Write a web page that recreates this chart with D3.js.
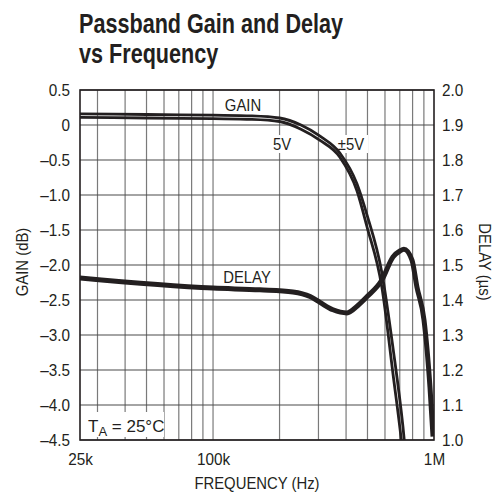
<!DOCTYPE html>
<html>
<head>
<meta charset="utf-8">
<script src="https://cdn.jsdelivr.net/npm/d3@7"></script>
<style>
  html, body { margin: 0; padding: 0; background: #fff; }
  svg { display: block; }
  text { font-family: "Liberation Sans", Arial, sans-serif; fill: #231f20; }
</style>
</head>
<body>
<svg id="chart" width="501" height="494"></svg>
<script>
// ---- data ----
const titleLines = ["Passband Gain and Delay", "vs Frequency"];
const gainTicks = [0.5, 0, -0.5, -1.0, -1.5, -2.0, -2.5, -3.0, -3.5, -4.0, -4.5];
const delayTicks = [2.0, 1.9, 1.8, 1.7, 1.6, 1.5, 1.4, 1.3, 1.2, 1.1, 1.0];
const freqTickValues = [25000, 100000, 1000000];
const freqTickLabels = ["25k", "100k", "1M"];
const freqGrid = [30000, 40000, 50000, 60000, 70000, 80000, 90000, 100000,
                  200000, 300000, 400000, 500000, 600000, 700000, 800000, 900000];

const gainFreq = [25000, 50000, 100000, 150000, 200000, 250000, 305000, 375000, 448000, 497000, 581000, 652000, 723000, 760000];
const gain5V   = [0.11, 0.10, 0.09, 0.08, 0.05, -0.06, -0.22, -0.46, -0.94, -1.45, -2.32, -3.55, -4.70, -5.40];
const gainPM5V = [0.16, 0.15, 0.14, 0.13, 0.10, 0.00, -0.16, -0.40, -0.84, -1.28, -2.11, -3.18, -4.30, -5.00];

const delayFreq = [25000, 100000, 163000, 230000, 275000, 305000, 349000, 404000, 450000, 497000, 581000, 652000, 701000, 731000, 795000, 837000, 901000, 959000, 990000];
const delayUs   = [1.463, 1.434, 1.429, 1.423, 1.410, 1.393, 1.372, 1.363, 1.383, 1.409, 1.457, 1.523, 1.540, 1.545, 1.514, 1.437, 1.343, 1.151, 1.010];

// ---- layout ----
const svg = d3.select("#chart");
const L = 80, R = 434, T = 90, B = 440;

const x = d3.scaleLog().domain([25000, 1000000]).range([L, R]);
const yG = d3.scaleLinear().domain([-4.5, 0.5]).range([B, T]);
const yD = d3.scaleLinear().domain([1.0, 2.0]).range([B, T]);

function condense(sel, f) {
  sel.each(function () {
    const w = this.getComputedTextLength();
    this.setAttribute("textLength", (w * f).toFixed(2));
    this.setAttribute("lengthAdjust", "spacingAndGlyphs");
  });
}

// title
svg.selectAll("text.title").data(titleLines).enter().append("text")
  .attr("class", "title")
  .attr("x", 79).attr("y", (d, i) => 33 + i * 30)
  .style("font-size", "27px").style("font-weight", "bold")
  .text(d => d)
  .call(condense, 0.8);

// grid
const grid = svg.append("g");
grid.selectAll("line.v").data(freqGrid).enter().append("line")
  .attr("x1", d => x(d)).attr("x2", d => x(d)).attr("y1", T).attr("y2", B)
  .attr("stroke", "#7a7a7a").attr("stroke-width", 1.2);
grid.selectAll("line.h").data(gainTicks).enter().append("line")
  .attr("x1", L).attr("x2", R).attr("y1", d => yG(d)).attr("y2", d => yG(d))
  .attr("stroke", "#4a4a4a").attr("stroke-width", 1.2);

// axes (labels only)
const fmtG = d => (d < 0 ? "\u2013" : "") + (d === 0 ? "0" : Math.abs(d).toFixed(1));
const axL = d3.axisLeft(yG).tickValues(gainTicks).tickFormat(fmtG).tickSize(0).tickPadding(10);
const gL = svg.append("g").attr("transform", `translate(${L},0)`).call(axL);
const axR = d3.axisRight(yD).tickValues(delayTicks).tickFormat(d => d.toFixed(1)).tickSize(0).tickPadding(8);
const gR = svg.append("g").attr("transform", `translate(${R},0)`).call(axR);
const axB = d3.axisBottom(x).tickValues(freqTickValues).tickFormat((d, i) => freqTickLabels[i]).tickSize(0).tickPadding(13);
const gB = svg.append("g").attr("transform", `translate(0,${B})`).call(axB);
[gL, gR, gB].forEach(g => {
  g.select(".domain").remove();
  g.selectAll("text").style("font-size", "17px").attr("fill", "#231f20")
    .style("font-family", '"Liberation Sans", Arial, sans-serif')
    .call(condense, 0.9);
});

// axis titles
svg.append("text").attr("transform", "translate(28,262) rotate(-90)")
  .attr("text-anchor", "middle").style("font-size", "16.5px").text("GAIN (dB)").call(condense, 0.9);
svg.append("text").attr("transform", "translate(479,262) rotate(90)")
  .attr("text-anchor", "middle").style("font-size", "16.5px").text("DELAY (\u00b5s)").call(condense, 0.9);
svg.append("text").attr("x", 257).attr("y", 489)
  .attr("text-anchor", "middle").style("font-size", "16.5px").text("FREQUENCY (Hz)").call(condense, 0.9);

// clip
svg.append("clipPath").attr("id", "plotclip").append("rect")
  .attr("x", L).attr("y", T).attr("width", R - L).attr("height", B - T);

const plot = svg.append("g").attr("clip-path", "url(#plotclip)");

// text labels with white boxes (drawn under the curves)
function boxed(txt, cx, cy, w, h) {
  plot.append("rect").attr("x", cx - w / 2).attr("y", cy - h + 3).attr("width", w).attr("height", h).attr("fill", "#fff");
  plot.append("text").attr("x", cx).attr("y", cy).attr("text-anchor", "middle")
    .style("font-size", "16.5px").text(txt).call(condense, 0.9);
}
boxed("GAIN", 243, 111, 44, 17);
boxed("5V", 282, 150, 22, 18);
boxed("\u00b15V", 351, 150, 34, 18);
boxed("DELAY", 247, 283, 54, 18);

// TA label
plot.append("rect").attr("x", 82).attr("y", 412).attr("width", 82).attr("height", 25).attr("fill", "#fff");
const ta = plot.append("text").attr("x", 88).attr("y", 432).style("font-size", "17px");
ta.append("tspan").text("T");
ta.append("tspan").attr("dy", 4).style("font-size", "13px").text("A");
ta.append("tspan").attr("dy", -4).text(" = 25\u00b0C");

const lineG = d3.line().x(d => x(d[0])).y(d => yG(d[1])).curve(d3.curveMonotoneX);
const lineD = d3.line().x(d => x(d[0])).y(d => yD(d[1])).curve(d3.curveMonotoneX);

[gain5V, gainPM5V].forEach(s => {
  plot.append("path").datum(gainFreq.map((f, i) => [f, s[i]]))
    .attr("d", lineG).attr("fill", "none").attr("stroke", "#231f20").attr("stroke-width", 2.8);
});
plot.append("path").datum(delayFreq.map((f, i) => [f, delayUs[i]]))
  .attr("d", lineD).attr("fill", "none").attr("stroke", "#231f20").attr("stroke-width", 5);

// frame
svg.append("rect").attr("x", L).attr("y", T).attr("width", R - L).attr("height", B - T)
  .attr("fill", "none").attr("stroke", "#231f20").attr("stroke-width", 1.6);
</script>
</body>
</html>
